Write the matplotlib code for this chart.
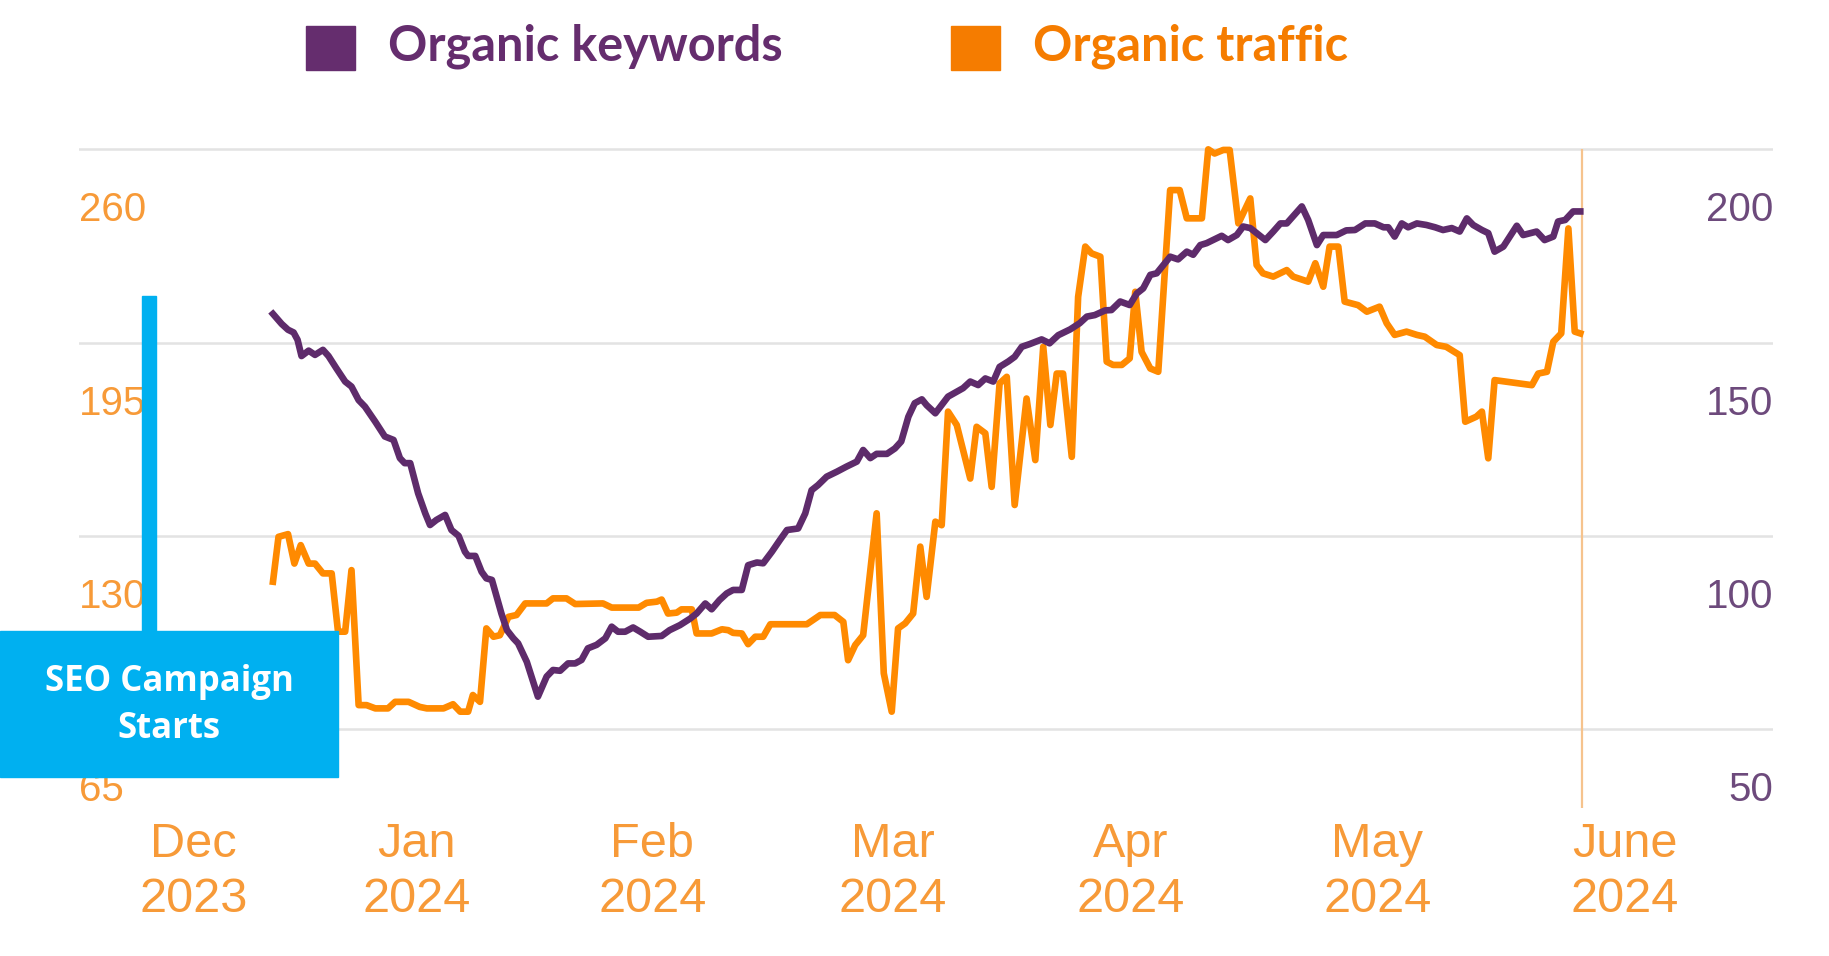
import matplotlib.pyplot as plt
import matplotlib.transforms as mtransforms
from matplotlib.patches import Rectangle

# days since the first data point (mid Dec 2023)
days_kw = [0, 1.1, 1.9, 2.6, 3.1, 3.6, 4.5, 5.3, 6.3, 7.0, 8.0, 9.1, 9.9, 10.8, 11.6,
           12.9, 14.1, 15.2, 16.0, 16.6, 17.3, 18.3, 19.2, 19.8, 20.6, 21.7, 22.5, 23.4,
           24.2, 24.6, 25.5, 26.3, 26.9, 27.6, 28.2, 28.8, 29.5, 30.3, 30.9, 32.0, 33.4,
           34.5, 35.3, 36.2, 37.2, 38.1, 38.9, 39.7, 40.8, 41.9, 42.7, 43.5, 44.4, 45.4,
           46.3, 47.3, 49.0, 50.0, 51.3, 52.6, 53.4, 54.5, 55.3, 56.3, 57.2, 58.0, 59.1,
           59.9, 61.0, 61.8, 62.9, 63.9, 64.8, 66.2, 67.1, 67.9, 68.7, 69.8, 71.1, 72.3,
           73.6, 74.4, 75.3, 76.1, 77.4, 78.4, 79.2, 80.1, 80.9, 81.8, 82.4, 83.5, 85.1,
           87.0, 87.9, 88.9, 89.8, 90.8, 91.6, 92.7, 93.5, 94.4, 95.4, 96.9, 97.9, 99.0,
           100.5, 101.7, 102.6, 103.6, 104.9, 105.7, 106.8, 108.0, 108.9, 109.7, 110.6,
           111.4, 113.1, 114.1, 115.2, 116.0, 116.9, 117.7, 118.5, 119.6, 120.4, 121.5,
           122.3, 123.2, 124.0, 125.1, 126.1, 127.0, 127.8, 129.7, 130.5, 131.6, 132.4,
           134.1, 135.3, 136.4, 137.7, 138.9, 140.0, 140.6, 141.4, 142.3, 143.1, 144.2,
           145.4, 146.5, 147.5, 148.6, 149.6, 150.5, 151.3, 152.4, 153.2, 154.0, 155.1,
           156.8, 157.6, 159.3, 160.3, 161.4, 162.0, 162.9, 163.9, 164.8]
keywords = [157.4, 154.8, 153.3, 152.6, 150.7, 146.5, 147.9, 146.8, 148.1, 146.5, 143.3,
            139.9, 138.6, 135.1, 133.4, 129.5, 125.7, 124.8, 120.1, 118.8, 118.8, 111.0,
            105.8, 102.8, 104.1, 105.4, 101.5, 100.0, 95.9, 94.8, 94.8, 90.7, 89.0, 88.6,
            84.3, 79.9, 75.6, 73.5, 72.2, 67.4, 58.4, 63.6, 65.3, 65.1, 67.0, 67.0, 67.9,
            70.9, 71.8, 73.5, 76.5, 75.2, 75.2, 76.3, 75.2, 73.9, 74.1, 75.6, 76.9, 78.6,
            79.9, 82.5, 81.0, 83.4, 85.1, 86.0, 86.0, 92.4, 93.1, 92.9, 95.9, 98.9, 101.5,
            101.9, 105.8, 111.8, 113.1, 115.3, 116.6, 117.9, 119.2, 122.2, 120.1, 121.2,
            121.2, 122.6, 124.4, 130.8, 134.3, 135.3, 133.8, 131.7, 136.0, 138.2, 139.9,
            139.0, 140.7, 139.9, 143.7, 145.1, 146.3, 148.9, 149.6, 150.8, 149.8, 151.9,
            153.4, 155.0, 156.7, 157.1, 158.3, 158.4, 160.6, 159.7, 162.7, 164.0, 167.5,
            167.9, 172.2, 171.5, 173.5, 172.7, 175.2, 175.7, 176.5, 177.6, 176.5, 177.8,
            180.0, 179.6, 178.3, 176.5, 178.7, 180.8, 180.8, 185.2, 181.7, 175.2, 177.8,
            177.8, 179.0, 179.1, 180.8, 180.8, 179.8, 179.8, 177.4, 180.8, 179.8, 180.8,
            180.4, 179.8, 179.1, 179.6, 178.7, 182.1, 180.4, 179.1, 178.3, 173.5, 174.8,
            180.2, 177.8, 178.7, 176.5, 177.4, 181.3, 181.7, 183.9, 183.9]

days_tr = [0, 0.7, 1.9, 2.7, 3.5, 4.5, 5.3, 6.3, 7.4, 8.2, 9.1, 9.9, 10.8, 11.8, 12.9,
           14.5, 15.4, 17.1, 18.5, 19.4, 21.5, 22.7, 23.6, 24.6, 25.2, 26.1, 26.9, 27.8,
           28.6, 29.7, 30.7, 31.8, 34.5, 35.3, 37.0, 38.1, 41.6, 42.7, 46.1, 47.1, 48.4,
           49.0, 49.8, 50.9, 51.5, 52.8, 53.4, 55.3, 56.6, 57.4, 58.0, 59.1, 59.9, 60.8,
           61.8, 62.7, 67.3, 69.0, 70.8, 71.9, 72.5, 73.4, 74.4, 76.1, 77.0, 78.0, 78.8,
           79.7, 80.7, 81.6, 82.4, 83.5, 84.3, 85.1, 86.2, 87.9, 88.7, 89.8, 90.6, 91.6,
           92.5, 93.5, 95.0, 96.1, 97.1, 98.0, 98.8, 99.6, 100.7, 101.5, 102.4, 103.2,
           104.3, 105.1, 105.9, 107.0, 108.0, 108.7, 109.5, 110.6, 111.6, 113.1, 114.3,
           115.2, 117.1, 117.9, 118.7, 119.8, 120.6, 121.7, 123.2, 124.0, 124.8, 126.1,
           127.8, 128.6, 130.5, 131.4, 132.4, 133.2, 134.3, 135.1, 136.8, 137.9, 139.5,
           140.4, 141.4, 142.9, 144.2, 145.2, 146.7, 147.9, 149.6, 150.3, 151.7, 152.4,
           153.2, 154.0, 158.7, 159.5, 160.6, 161.4, 162.4, 163.3, 164.1, 164.8]
traffic = [114.6, 129.7, 130.6, 120.7, 126.9, 120.7, 120.7, 117.4, 117.4, 97.8, 97.8,
           118.5, 73.1, 73.1, 72.0, 72.0, 74.2, 74.2, 72.5, 72.0, 72.0, 73.4, 70.9, 70.9,
           76.5, 74.2, 98.9, 96.1, 96.6, 102.8, 103.4, 107.3, 107.3, 109.0, 109.0, 107.1,
           107.3, 105.9, 105.9, 107.5, 107.9, 108.6, 103.9, 104.2, 105.3, 105.3, 97.2,
           97.2, 98.6, 98.3, 97.4, 97.2, 93.6, 96.1, 96.1, 100.3, 100.3, 103.4, 103.4,
           101.1, 88.2, 93.3, 96.6, 137.6, 83.8, 70.9, 98.9, 100.6, 103.9, 126.4, 109.5,
           134.8, 133.6, 171.8, 167.3, 149.3, 166.7, 164.5, 146.5, 181.3, 183.5, 140.4,
           176.2, 155.5, 193.6, 167.3, 184.6, 184.6, 156.6, 210.4, 227.3, 225.0, 223.9,
           188.6, 187.5, 187.5, 189.7, 212.1, 191.9, 186.3, 185.2, 246.3, 246.3, 236.8,
           236.8, 260.0, 258.6, 259.8, 259.8, 235.1, 243.5, 221.1, 218.3, 217.2, 219.4,
           217.2, 215.5, 221.7, 213.8, 227.3, 227.3, 208.8, 207.6, 205.4, 207.1, 201.5,
           197.6, 198.7, 197.6, 197.0, 194.2, 193.6, 190.8, 168.4, 170.1, 171.8, 156.1,
           182.4, 180.7, 184.6, 185.2, 195.3, 198.1, 233.4, 198.7, 198.1]

month_days = [-10.0, 18.1, 47.8, 78.1, 108.1, 139.2, 170.4]
month_labels = ["Dec\n2023", "Jan\n2024", "Feb\n2024", "Mar\n2024",
                "Apr\n2024", "May\n2024", "June\n2024"]
traffic_ticks = [65, 130, 195, 260]
keyword_ticks = [50, 100, 150, 200]
today = 165

PURPLE = "#5e2b6b"
ORANGE = "#ff8a00"
TICK_ORANGE = "#f79a38"
TICK_PURPLE = "#6d4a7c"
BLUE = "#00b0f0"

fig = plt.figure(figsize=(18.29, 9.56), dpi=100)
ax = fig.add_axes([0.0432, 0.1548, 0.9262, 0.6952])
ax2 = ax.twinx()

ax.plot(days_tr, traffic, color=ORANGE, lw=4.8, zorder=3)
ax.vlines(today, 38.5, 260, color="#f6c38d", lw=1.6, zorder=2)
ax2.plot(days_kw, keywords, color=PURPLE, lw=4.8, zorder=3)

ax.set_xlim(-24.45, 189.1)
ax.set_ylim(38.5, 262)
ax2.set_ylim(29.6, 201.5)

for a in (ax, ax2):
    for s in a.spines.values():
        s.set_visible(False)

ax.set_yticks(traffic_ticks)
ax.yaxis.grid(True, color="#e3e3e3", lw=1.8)
ax.set_axisbelow(True)
ax2.set_yticks(keyword_ticks)

ax.tick_params(axis="y", length=0, pad=0, labelsize=29, labelcolor=TICK_ORANGE)
ax2.tick_params(axis="y", length=0, pad=0, labelsize=29, labelcolor=TICK_PURPLE)

# labels sit a bit below their gridline, inside the plot
shift = mtransforms.ScaledTranslation(0, -0.57, fig.dpi_scale_trans)
for lab in ax.get_yticklabels():
    lab.set_horizontalalignment("left")
    lab.set_fontfamily(["Liberation Sans", "DejaVu Sans"])
    lab.set_transform(lab.get_transform() + shift)
for lab in ax2.get_yticklabels():
    lab.set_horizontalalignment("right")
    lab.set_fontfamily(["Liberation Sans", "DejaVu Sans"])
    lab.set_transform(lab.get_transform() + shift)

ax.set_xticks(month_days, month_labels)
ax.tick_params(axis="x", length=0, pad=10, labelsize=35, labelcolor=TICK_ORANGE)
for lab in ax.get_xticklabels():
    lab.set_fontfamily(["Liberation Sans", "DejaVu Sans"])
    lab.set_linespacing(1.3)

# legend drawn by hand at the top
fig.patches.append(Rectangle((0.1673, 0.9268), 0.0268, 0.046, transform=fig.transFigure,
                             color="#652d6e", zorder=5))
fig.patches.append(Rectangle((0.520, 0.9268), 0.0268, 0.046, transform=fig.transFigure,
                             color="#f57c00", zorder=5))
fig.text(0.2121, 0.9365, "Organic keywords", color="#652d6e", fontsize=35,
         fontweight="bold", family=["Lato", "DejaVu Sans"], va="baseline")
fig.text(0.5648, 0.9365, "Organic traffic", color="#f57c00", fontsize=35,
         fontweight="bold", family=["Lato", "DejaVu Sans"], va="baseline")

# campaign marker
fig.patches.append(Rectangle((0.0776, 0.34), 0.00765, 0.3504, transform=fig.transFigure,
                             color=BLUE, zorder=10))
fig.patches.append(Rectangle((0.0, 0.1872), 0.1848, 0.1528, transform=fig.transFigure,
                             color=BLUE, zorder=10))
fig.text(0.0924, 0.262, "SEO Campaign\nStarts", color="white", fontsize=25,
         fontweight="bold", family=["Open Sans", "DejaVu Sans"], ha="center",
         va="center", linespacing=1.4, zorder=11)

fig.savefig("out.png", dpi=100)
